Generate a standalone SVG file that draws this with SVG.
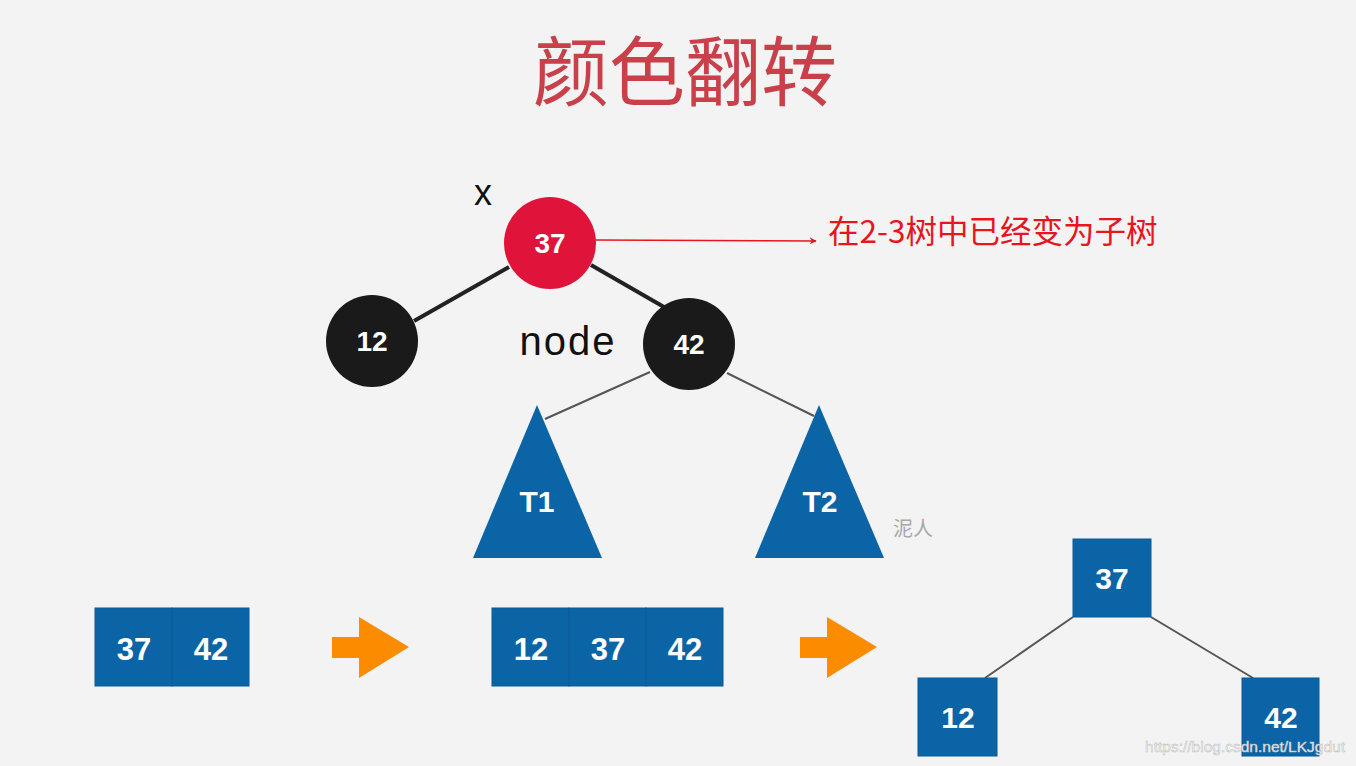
<svg xmlns="http://www.w3.org/2000/svg" width="1356" height="766" viewBox="0 0 1356 766">
<defs>
<style>
.lbl{font-family:"Liberation Sans",Arial,sans-serif;font-weight:bold;fill:#fff;text-anchor:middle}
.box{fill:#0b64a6;stroke:#0a5a96;stroke-width:1}
.tri{fill:#0b64a6}
.arr{fill:#fb8c00}
.edge{stroke:#222;stroke-width:4;fill:none}
.thin{stroke:#555;stroke-width:2;fill:none}
</style>
<marker id="ah" viewBox="0 0 10 10" refX="9" refY="5" markerWidth="7" markerHeight="7" markerUnits="userSpaceOnUse" orient="auto">
<path d="M0,0 L10,5 L0,10 L3,5 Z" fill="#e8141e"/>
</marker>
</defs>
<rect width="1356" height="766" fill="#f3f3f3"/>
<text x="685" y="100" font-family="'Noto Sans CJK SC',sans-serif" font-size="76" fill="#c9404a" text-anchor="middle">颜色翻转</text>

<g id="connectors">
<line class="edge" x1="509" y1="267" x2="414" y2="321"/>
<line class="edge" x1="591" y1="265" x2="664" y2="307"/>
<line class="thin" x1="650" y1="372" x2="545" y2="419"/>
<line class="thin" x1="727" y1="373" x2="814" y2="416"/>
<line x1="596" y1="240" x2="816" y2="241" stroke="#e8141e" stroke-width="1.5" marker-end="url(#ah)"/>
<line class="thin" x1="1073" y1="617" x2="985" y2="678"/>
<line class="thin" x1="1151" y1="617" x2="1253" y2="678"/>
</g>

<g id="n37">
<circle cx="550" cy="243" r="46" fill="#e0143a"/>
<text class="lbl" x="550" y="253" font-size="28">37</text>
</g>
<g id="x-label"><text x="483" y="205" font-family="'Liberation Sans',Arial,sans-serif" font-size="36" fill="#111" text-anchor="middle">x</text></g>
<g id="n12">
<circle cx="372" cy="341" r="46" fill="#1a1a1a"/>
<text class="lbl" x="372" y="351" font-size="28">12</text>
</g>
<g id="node-label"><text x="568" y="355" font-family="'Liberation Sans',Arial,sans-serif" font-size="40" letter-spacing="2" fill="#111" text-anchor="middle">node</text></g>
<g id="n42">
<circle cx="689" cy="344" r="46" fill="#1a1a1a"/>
<text class="lbl" x="689" y="354" font-size="28">42</text>
</g>
<g id="note"><text x="828" y="243" font-family="'Noto Sans CJK SC',sans-serif" font-size="31.5" fill="#e8141e">在2-3树中已经变为子树</text></g>

<g id="t1">
<polygon class="tri" points="537,405 473,558 602,558"/>
<text class="lbl" x="537" y="512" font-size="30">T1</text>
</g>
<g id="t2">
<polygon class="tri" points="819,405 755,558 884,558"/>
<text class="lbl" x="820" y="512" font-size="30">T2</text>
</g>
<g id="wm1"><text x="893" y="536" font-family="'Noto Sans CJK SC',sans-serif" font-size="20" fill="#a8a8a8">泥人</text></g>

<g id="box2">
<rect class="box" x="95" y="608" width="77" height="78"/>
<rect class="box" x="172" y="608" width="77" height="78"/>
<text class="lbl" x="134" y="660" font-size="31">37</text>
<text class="lbl" x="211" y="660" font-size="31">42</text>
</g>
<g id="arrow1"><polygon class="arr" points="332,637 359,637 359,617 409,647 359,678 359,658 332,658"/></g>
<g id="box3">
<rect class="box" x="492" y="608" width="77" height="78"/>
<rect class="box" x="569" y="608" width="77" height="78"/>
<rect class="box" x="646" y="608" width="77" height="78"/>
<text class="lbl" x="531" y="660" font-size="31">12</text>
<text class="lbl" x="608" y="660" font-size="31">37</text>
<text class="lbl" x="685" y="660" font-size="31">42</text>
</g>
<g id="arrow2"><polygon class="arr" points="800,637 827,637 827,617 877,647 827,678 827,658 800,658"/></g>
<g id="b37">
<rect class="box" x="1073" y="539" width="78" height="78"/>
<text class="lbl" x="1112" y="589" font-size="30">37</text>
</g>
<g id="b12">
<rect class="box" x="918" y="678" width="79" height="78"/>
<text class="lbl" x="958" y="728" font-size="30">12</text>
</g>
<g id="b42">
<rect class="box" x="1242" y="678" width="77" height="78"/>
<text class="lbl" x="1281" y="728" font-size="30">42</text>
</g>
<g id="wm2"><text x="1345" y="752" font-family="'Liberation Sans',Arial,sans-serif" font-size="15.5" fill="#f4f4f4" stroke="#c0c0c0" stroke-width="0.5" text-anchor="end">https://blog.csdn.net/LKJgdut</text></g>
</svg>
